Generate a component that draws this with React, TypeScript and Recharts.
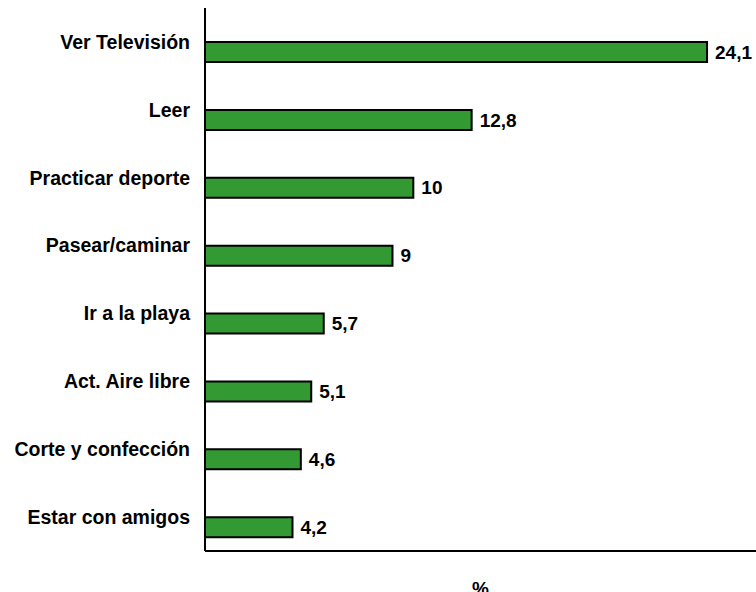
import React from 'react';
import { BarChart, Bar, XAxis, YAxis, LabelList } from 'recharts';

const categories = [
  'Ver Televisión',
  'Leer',
  'Practicar deporte',
  'Pasear/caminar',
  'Ir a la playa',
  'Act. Aire libre',
  'Corte y confección',
  'Estar con amigos',
];
const values = [24.1, 12.8, 10, 9, 5.7, 5.1, 4.6, 4.2];
const axisTitle = '%';

const data = categories.map((name, i) => ({ name, value: values[i] }));

const fmt = (v: any) => String(v).replace('.', ',');

export default function App() {
  return (
    <div style={{ position: 'absolute', left: 0, top: 0, background: '#fff' }}>
      <BarChart
        width={756}
        height={592}
        data={data}
        layout="vertical"
        margin={{ top: 8, right: 0, left: 0, bottom: 0 }}
        style={{ fontFamily: 'Liberation Sans, Arial, sans-serif' }}
      >
        <XAxis
          type="number"
          domain={[0, 26.45]}
          allowDataOverflow
          tick={false}
          tickLine={false}
          height={41}
          axisLine={{ stroke: '#000', strokeWidth: 2 }}
          label={{
            value: axisTitle,
            position: 'insideBottom',
            offset: -3,
            fill: '#000',
            fontWeight: 'bold',
            fontSize: 19,
          }}
        />
        <YAxis
          type="category"
          dataKey="name"
          width={205}
          tickLine={false}
          tickMargin={9}
          interval={0}
          axisLine={{ stroke: '#000', strokeWidth: 2 }}
          tick={{ fill: '#000', fontWeight: 'bold', fontSize: 19.5 }}
        />
        <YAxis
          yAxisId="bars"
          type="category"
          dataKey="name"
          hide
          padding={{ top: 10, bottom: -10 }}
        />
        <Bar
          dataKey="value"
          yAxisId="bars"
          barSize={20}
          fill="#339933"
          stroke="#000"
          strokeWidth={2}
          isAnimationActive={false}
        >
          <LabelList
            dataKey="value"
            position="right"
            offset={8}
            formatter={fmt}
            fill="#000"
            fontWeight="bold"
            fontSize={19}
          />
        </Bar>
      </BarChart>
    </div>
  );
}
